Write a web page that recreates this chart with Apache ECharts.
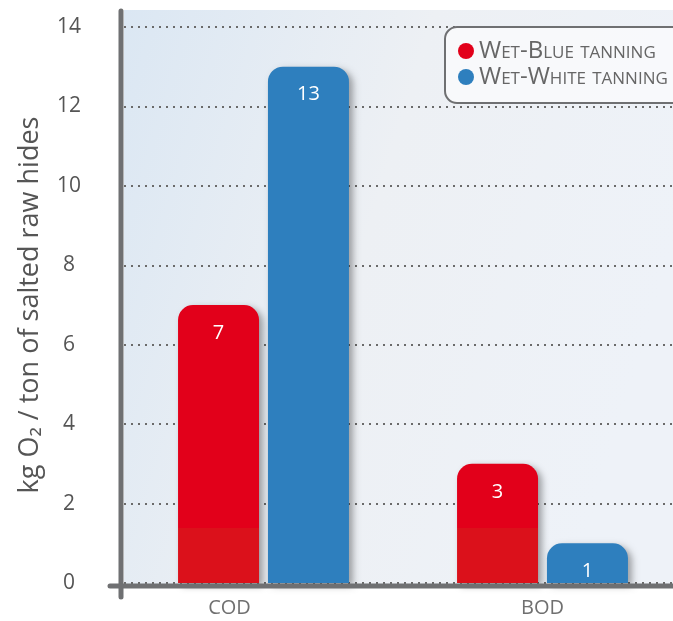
<!DOCTYPE html>
<html>
<head>
<meta charset="utf-8">
<script src="https://cdn.jsdelivr.net/npm/echarts@6/dist/echarts.min.js"></script>
<style>
  html, body { margin: 0; padding: 0; background: #fff; overflow: hidden; }
  #chart { width: 690px; height: 621px; }
</style>
</head>
<body>
<div id="chart"></div>
<script>
// data
const categories = ['COD', 'BOD'];
const seriesNames = ['Wet-Blue tanning', 'Wet-White tanning'];
const wetBlue = [7, 3];
const wetWhite = [13, 1];
const yMin = 0, yMax = 14, yStep = 2;

const RED = '#e2001a', RED_LOW = '#db111b', BLUE = '#2e7fbe';
const lowBand = 1.38; // height of the lighter strip at the foot of red bars

function redItem(v) {
  const f = Math.max(0, 1 - lowBand / v);
  return {
    value: v,
    itemStyle: {
      color: new echarts.graphic.LinearGradient(0, 0, 0, 1, [
        { offset: 0, color: RED },
        { offset: f, color: RED },
        { offset: f, color: RED_LOW },
        { offset: 1, color: RED_LOW }
      ])
    }
  };
}

const chart = echarts.init(document.getElementById('chart'));
const font = '"Open Sans", "DejaVu Sans", sans-serif';

const barStyle = {
  borderRadius: [15, 15, 0, 0],
  shadowColor: 'rgba(0,0,0,0.35)',
  shadowBlur: 7,
  shadowOffsetX: 4,
  shadowOffsetY: 3
};
const barLabel = {
  show: true,
  position: 'insideTop',
  distance: 18,
  color: '#fff',
  fontSize: 20,
  fontFamily: font
};

chart.setOption({
  animation: false,
  grid: { left: 124, top: 27, bottom: 38, right: 8 },
  graphic: [
    {
      type: 'rect', z: -10, silent: true,
      shape: { x: 124, y: 10, width: 570, height: 575 },
      style: {
        fill: new echarts.graphic.LinearGradient(0, 0, 1, 0.3, [
          { offset: 0, color: '#dbe7f3' },
          { offset: 0.5, color: '#edf0f4' },
          { offset: 1, color: '#eef2f8' }
        ])
      }
    },
    {
      type: 'line', z: 100, silent: true,
      shape: { x1: 121, y1: 11, x2: 121, y2: 597 },
      style: { stroke: '#6f7072', lineWidth: 5, lineCap: 'round' }
    },
    {
      type: 'line', z: 100, silent: true,
      shape: { x1: 110, y1: 586, x2: 690, y2: 586 },
      style: { stroke: '#6f7072', lineWidth: 5, lineCap: 'round' }
    }
  ],
  legend: {
    orient: 'vertical',
    left: 445,
    top: 27,
    padding: [12, 30, 14, 13],
    itemGap: 2,
    itemWidth: 16,
    itemHeight: 16,
    icon: 'circle',
    borderColor: '#6f7072',
    borderWidth: 2,
    borderRadius: 12,
    backgroundColor: 'rgba(248,250,252,0.9)',
    textStyle: {
      color: '#666',
      fontSize: 24,
      fontStyle: 'small-caps',
      fontFamily: font
    },
    data: seriesNames
  },
  xAxis: {
    type: 'category',
    data: categories,
    axisLine: { show: false },
    axisTick: { show: false },
    axisLabel: {
      margin: 15,
      color: '#707070',
      fontSize: 20,
      fontFamily: font,
      formatter: v => v === 'COD' ? '{off|' + v + '}' : v,
      rich: { off: { padding: [0, 68, 0, 0], color: '#707070', fontSize: 20, fontFamily: font } }
    }
  },
  yAxis: {
    type: 'value',
    min: yMin,
    max: yMax,
    interval: yStep,
    name: 'kg O₂ / ton of salted raw hides',
    nameLocation: 'middle',
    nameGap: 80,
    nameTextStyle: { color: '#555', fontSize: 27, fontFamily: font },
    axisLine: { show: false },
    axisTick: { show: false },
    axisLabel: {
      margin: 55,
      align: 'center',
      color: '#555',
      fontSize: 21,
      fontFamily: font
    },
    splitLine: {
      show: true,
      lineStyle: { color: '#6a6a6a', width: 2, type: [2, 5] }
    }
  },
  series: [
    {
      name: seriesNames[0],
      type: 'bar',
      barWidth: 81,
      barGap: '11%',
      color: RED,
      itemStyle: barStyle,
      label: barLabel,
      data: wetBlue.map(redItem)
    },
    {
      name: seriesNames[1],
      type: 'bar',
      barWidth: 81,
      barGap: '11%',
      color: BLUE,
      itemStyle: barStyle,
      label: barLabel,
      data: wetWhite
    }
  ]
});
</script>
</body>
</html>
